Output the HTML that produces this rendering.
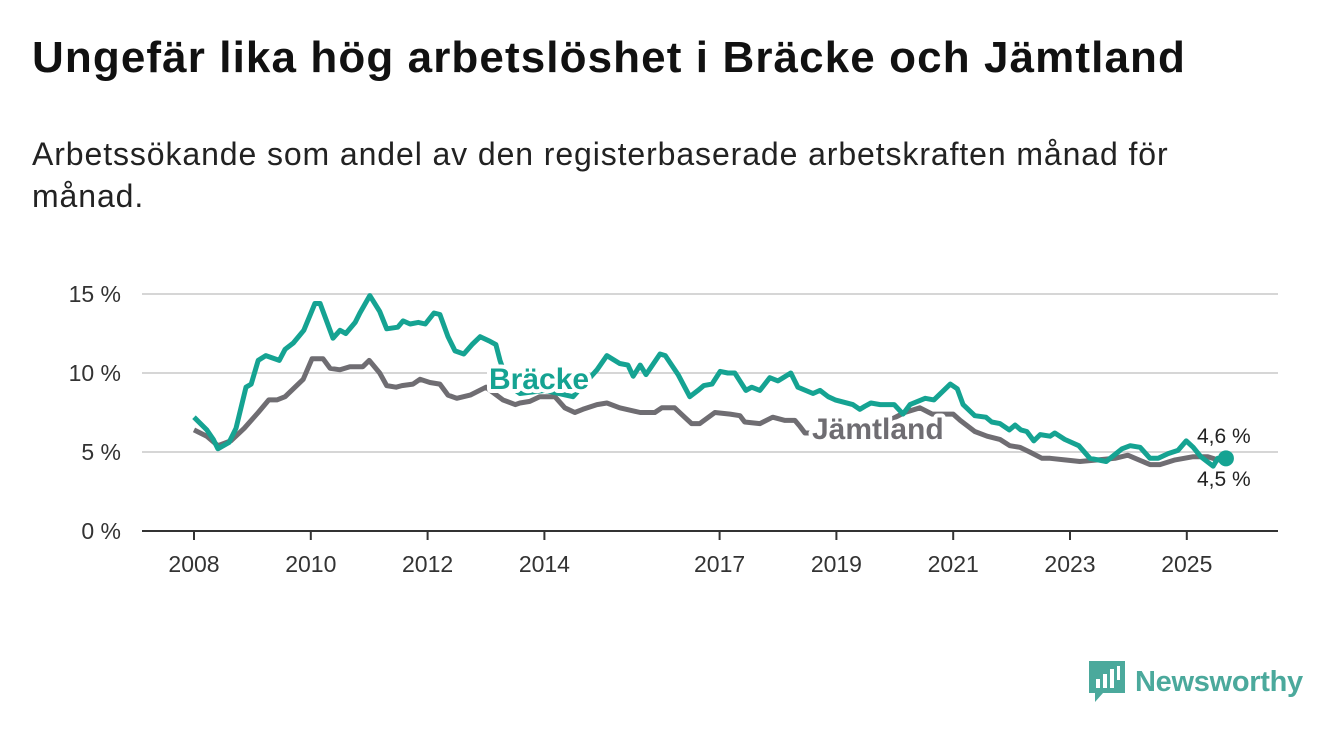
<!DOCTYPE html>
<html><head><meta charset="utf-8">
<style>
body{margin:0;width:1340px;height:734px;background:#fff;font-family:"Liberation Sans",sans-serif;overflow:hidden;position:relative}
h1{position:absolute;left:32px;top:33px;margin:0;font-size:44px;font-weight:bold;color:#111;letter-spacing:1.1px;white-space:nowrap}
.sub{position:absolute;left:32px;top:133px;margin:0;font-size:32px;line-height:42px;color:#222;width:1290px;letter-spacing:0.9px;white-space:nowrap}
svg{position:absolute;left:0;top:0}
</style></head><body>
<h1>Ungefär lika hög arbetslöshet i Bräcke och Jämtland</h1>
<p class="sub">Arbetssökande som andel av den registerbaserade arbetskraften månad för<br>månad.</p>
<svg id="chart" width="1340" height="734"></svg>
<script>
const yTicks=[0,5,10,15];
const yTickLabels=["0 %","5 %","10 %","15 %"];
const xTicks=[2008,2010,2012,2014,2017,2019,2021,2023,2025];
const brackeDates=[2008.00,2008.22,2008.33,2008.41,2008.60,2008.72,2008.89,2008.98,2009.10,2009.23,2009.46,2009.56,2009.70,2009.88,2010.07,2010.16,2010.38,2010.50,2010.60,2010.76,2010.84,2011.01,2011.18,2011.30,2011.49,2011.58,2011.70,2011.84,2011.96,2012.11,2012.21,2012.35,2012.47,2012.62,2012.76,2012.90,2013.07,2013.17,2013.24,2013.39,2013.58,2014.01,2014.49,2014.90,2015.07,2015.29,2015.43,2015.52,2015.64,2015.74,2015.98,2016.07,2016.29,2016.49,2016.63,2016.73,2016.87,2017.01,2017.14,2017.26,2017.45,2017.55,2017.69,2017.86,2018.00,2018.22,2018.34,2018.60,2018.72,2018.86,2018.98,2019.28,2019.40,2019.49,2019.59,2019.75,2019.99,2020.14,2020.26,2020.52,2020.67,2020.95,2021.07,2021.17,2021.37,2021.56,2021.66,2021.80,2021.96,2022.06,2022.16,2022.26,2022.38,2022.49,2022.66,2022.74,2022.91,2023.15,2023.34,2023.62,2023.89,2024.03,2024.20,2024.37,2024.51,2024.68,2024.85,2024.99,2025.11,2025.24,2025.45,2025.53,2025.67];
const brackeValues=[7.2,6.4,5.8,5.2,5.6,6.5,9.1,9.3,10.8,11.1,10.8,11.5,11.9,12.7,14.4,14.4,12.2,12.7,12.5,13.2,13.8,14.9,13.9,12.8,12.9,13.3,13.1,13.2,13.1,13.8,13.7,12.3,11.4,11.2,11.8,12.3,12.0,11.8,10.8,9.2,8.7,8.9,8.5,10.2,11.1,10.6,10.5,9.8,10.5,9.9,11.2,11.1,9.9,8.5,8.9,9.2,9.3,10.1,10.0,10.0,8.9,9.1,8.9,9.7,9.5,10.0,9.1,8.7,8.9,8.5,8.3,8.0,7.7,7.9,8.1,8.0,8.0,7.4,8.0,8.4,8.3,9.3,9.0,8.0,7.3,7.2,6.9,6.8,6.4,6.7,6.4,6.3,5.7,6.1,6.0,6.2,5.8,5.4,4.6,4.4,5.2,5.4,5.3,4.6,4.6,4.9,5.1,5.7,5.3,4.7,4.1,4.6,4.6];
const jamtDates=[2008.00,2008.22,2008.41,2008.63,2008.86,2009.10,2009.28,2009.42,2009.56,2009.70,2009.87,2010.02,2010.21,2010.33,2010.50,2010.67,2010.89,2011.00,2011.18,2011.30,2011.46,2011.56,2011.75,2011.87,2012.04,2012.21,2012.35,2012.50,2012.73,2013.00,2013.29,2013.50,2013.58,2013.75,2013.92,2014.18,2014.35,2014.52,2014.66,2014.90,2015.07,2015.29,2015.64,2015.89,2016.01,2016.23,2016.40,2016.52,2016.66,2016.92,2017.18,2017.35,2017.43,2017.69,2017.91,2018.12,2018.29,2018.38,2018.46,2018.55,2019.23,2019.75,2020.17,2020.43,2020.64,2021.00,2021.12,2021.37,2021.58,2021.80,2021.97,2022.14,2022.31,2022.52,2022.66,2022.91,2023.17,2023.48,2023.77,2023.99,2024.37,2024.54,2024.80,2025.11,2025.36,2025.53,2025.67];
const jamtValues=[6.4,6.0,5.4,5.7,6.5,7.5,8.3,8.3,8.5,9.0,9.6,10.9,10.9,10.3,10.2,10.4,10.4,10.8,10.0,9.2,9.1,9.2,9.3,9.6,9.4,9.3,8.6,8.4,8.6,9.1,8.3,8.0,8.1,8.2,8.5,8.5,7.8,7.5,7.7,8.0,8.1,7.8,7.5,7.5,7.8,7.8,7.2,6.8,6.8,7.5,7.4,7.3,6.9,6.8,7.2,7.0,7.0,6.6,6.2,6.2,6.4,6.7,7.5,7.8,7.4,7.4,7.0,6.3,6.0,5.8,5.4,5.3,5.0,4.6,4.6,4.5,4.4,4.5,4.6,4.8,4.2,4.2,4.5,4.7,4.7,4.5,4.5];

const NS="http://www.w3.org/2000/svg";
const svg=document.getElementById('chart');
const X=y=>194+(y-2008)*58.4;
const Y=v=>531-v*15.8;
function el(t,a){const e=document.createElementNS(NS,t);for(const k in a)e.setAttribute(k,a[k]);svg.appendChild(e);return e;}
yTicks.forEach((t,i)=>{
  if(t>0){const g=el('line',{x1:142,x2:1278,y1:Y(t),y2:Y(t),stroke:'#d6d6d6','stroke-width':2});
  
  }
  const tx=el('text',{x:121,y:Y(t)+8,'text-anchor':'end','font-size':23,fill:'#333','font-family':'Liberation Sans, sans-serif'});
  tx.textContent=yTickLabels[i];
  
  
});
const ax=el('line',{x1:142,x2:1278,y1:531,y2:531,stroke:'#333','stroke-width':2});


xTicks.forEach(t=>{
  const tk=el('line',{x1:X(t),x2:X(t),y1:531,y2:540,stroke:'#333','stroke-width':2});
  
  
  const tx=el('text',{x:X(t),y:572,'text-anchor':'middle','font-size':23,fill:'#333','font-family':'Liberation Sans, sans-serif'});
  tx.textContent=t;
  
  
});
function path(d,v){return d.map((x,i)=>(i?'L':'M')+X(x).toFixed(1)+','+Y(v[i]).toFixed(1)).join('');}
const pj=el('path',{d:path(jamtDates,jamtValues),fill:'none',stroke:'#6f6d72','stroke-width':5,'stroke-linejoin':'round'});


const pb=el('path',{d:path(brackeDates,brackeValues),fill:'none',stroke:'#15a392','stroke-width':5,'stroke-linejoin':'round'});


const lb=brackeDates.length-1, lj=jamtDates.length-1;
const dj=el('circle',{cx:X(jamtDates[lj]),cy:Y(jamtValues[lj]),r:5,fill:'#6f6d72'});


const db=el('circle',{cx:X(brackeDates[lb]),cy:Y(brackeValues[lb]),r:8,fill:'#15a392'});


function label(txt,x,y,fill,size,bold,name){
  const t=el('text',{x:x,y:y,'font-size':size,'font-weight':bold?'bold':'normal',fill:fill,stroke:'#fff','stroke-width':bold?8:5,'paint-order':'stroke','stroke-linejoin':'round','font-family':'Liberation Sans, sans-serif'});
  t.textContent=txt;
  
  
}
label('Bräcke',489,389,'#15a392',30,true,'bracke-label');
label('Jämtland',812,439,'#6f6d72',30,true,'jamtland-label');
label('4,6 %',1197,443,'#222',21,false,'bracke-end-value');
label('4,5 %',1197,486,'#222',21,false,'jamtland-end-value');
</script>
<div style="position:absolute;left:1089px;top:660px;height:44px;display:flex;align-items:center">
<svg width="36" height="42" viewBox="0 0 36 42" style="position:static"><path d="M0 0H36V32H14L6 41V32H0Z" fill="#4ba99c"/><rect x="7" y="18" width="4" height="9" fill="#fff"/><rect x="14" y="13" width="4" height="14" fill="#fff"/><rect x="21" y="8" width="4" height="19" fill="#fff"/><rect x="28" y="5" width="3" height="14" fill="#fff"/></svg>
<span style="margin-left:10px;font-size:29px;color:#4ba99c;font-weight:bold;letter-spacing:-0.3px">Newsworthy</span>
</div>
</body></html>
